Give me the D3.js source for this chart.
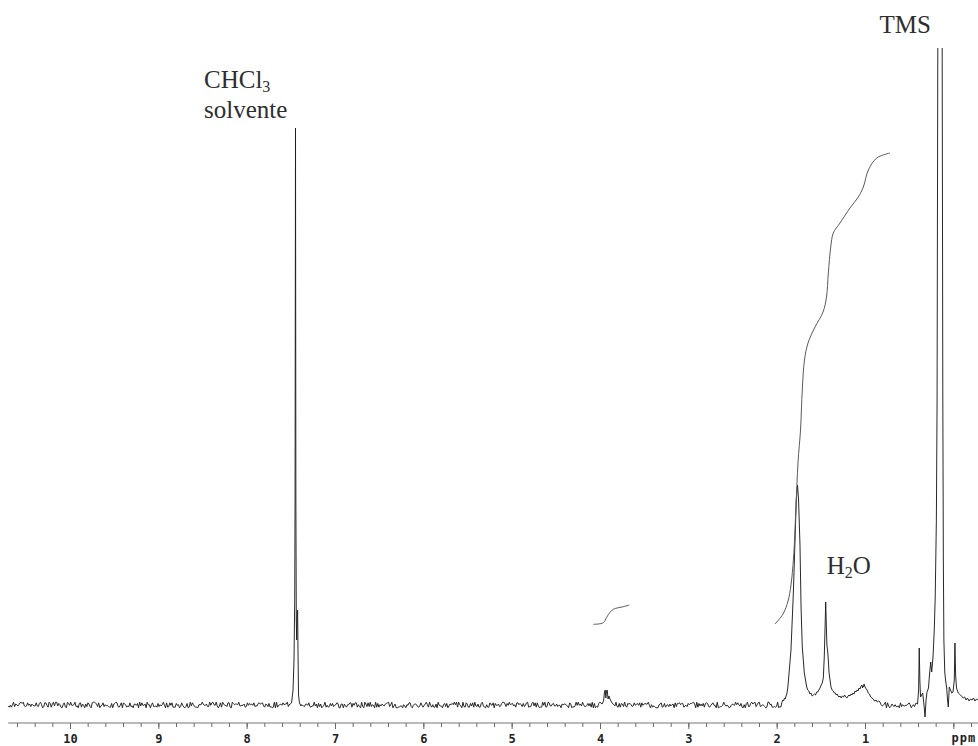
<!DOCTYPE html>
<html>
<head>
<meta charset="utf-8">
<title>RMN 1H</title>
<script src="https://d3js.org/d3.v7.min.js"></script>
<style>
  html, body { margin: 0; padding: 0; background: #fff; }
  svg { display: block; }
  .axis line { stroke: #6a6a6a; }
  .axis text { font-family: "DejaVu Sans Mono", monospace; font-weight: bold; font-size: 12px; fill: #222; }
  .label { font-family: "Liberation Serif", "Times New Roman", serif; font-size: 25px; fill: #2e2e2e; }
</style>
</head>
<body>
<svg id="spectrum" width="978" height="746"></svg>
<script>
// baseline jitter, one digit per step, read as offsets around zero
var noiseStart = 10.70;
var noiseStep = 0.0122;
var noiseScale = 0.62;
var baselineNoise =
	"31415926535897932384626433832795028841971693993751" +
	"05820974944592307816406286208998628034825342117067" +
	"98214808651328230664709384460955058223172535940812" +
	"84811174502841027019385211055596446229489549303819" +
	"64428810975665933446128475648233786783165271201909" +
	"14564856692346034861045432664821339360726024914127" +
	"37245870066063155881748815209209628292540917153643" +
	"67892590360011330530548820466521384146951941511609" +
	"43305727036575959195309218611738193261179310511854" +
	"80744623799627495673518857527248912279381830119491" +
	"29833673362440656643086021394946395224737190702179" +
	"86094370277053921717629317675238467481846766940513" +
	"20005681271452635608277857713427577896091736371787" +
	"21468440901224953430146549585371050792279689258923" +
	"54201995611212902196086403441815981362977477130996" +
	"05187072113499999983729780499510597317328160963185" +
	"95024459455346908302642522308253344685035261931188" +
	"17101000313783875288658753320838142061717766914730";

// [ppm, intensity]
var chcl3Peak = [
	[7.521, 0], [7.492, 2], [7.475, 15], [7.464, 45], [7.456, 105], [7.452, 208],
	[7.447, 577], [7.443, 208], [7.438, 85], [7.434, 65], [7.428, 93], [7.423, 95],
	[7.419, 55], [7.413, 10], [7.402, 2], [7.385, -1]
];

var multiplet39 = [
	[3.977, 1], [3.960, 4], [3.949, 13], [3.941, 15], [3.934, 7], [3.926, 14],
	[3.918, 15], [3.909, 6], [3.898, 9], [3.887, 6], [3.870, 3], [3.853, 1]
];

var alkylPeaks = [
	[1.940, 3], [1.930, 5], [1.921, 4], [1.912, 7], [1.903, 6], [1.894, 9], [1.885, 11],
	[1.876, 16], [1.868, 23], [1.838, 55], [1.812, 110], [1.792, 165], [1.778, 205],
	[1.764, 220], [1.752, 205], [1.736, 160], [1.724, 98], [1.710, 58], [1.687, 32],
	[1.660, 18], [1.648, 15], [1.636, 14], [1.623, 11], [1.611, 12], [1.598, 9],
	[1.585, 10], [1.572, 11], [1.560, 10], [1.547, 13], [1.535, 13], [1.522, 15],
	[1.509, 17], [1.496, 20], [1.484, 22], [1.472, 27], [1.461, 48], [1.450, 85],
	[1.445, 103], [1.438, 80], [1.431, 60], [1.422, 53], [1.415, 45], [1.407, 32],
	[1.385, 18], [1.372, 15], [1.360, 14], [1.347, 12], [1.335, 12], [1.326, 10],
	[1.317, 11], [1.305, 9], [1.294, 8], [1.283, 9], [1.270, 7], [1.257, 9],
	[1.243, 8], [1.231, 10], [1.218, 8], [1.204, 7], [1.192, 9], [1.181, 10],
	[1.170, 9], [1.158, 11], [1.147, 10], [1.136, 12], [1.124, 11], [1.113, 14],
	[1.102, 13], [1.090, 15], [1.079, 14], [1.068, 17], [1.056, 16], [1.045, 19],
	[1.034, 20], [1.028, 17], [1.022, 19], [1.016, 18], [1.011, 21], [1.003, 19],
	[0.994, 17], [0.985, 16], [0.977, 15], [0.963, 12], [0.949, 11], [0.935, 8],
	[0.921, 7], [0.907, 6], [0.892, 4], [0.875, 5], [0.860, 3], [0.845, 4], [0.830, 3]
];

var tmsPeaks = [
	[0.422, 2], [0.405, 1], [0.393, 15], [0.386, 57], [0.379, 25], [0.371, 8],
	[0.360, 10], [0.347, 12], [0.332, 0], [0.320, -12], [0.309, 5], [0.298, 13],
	[0.281, 17], [0.270, 30], [0.256, 43], [0.245, 33], [0.230, 48], [0.216, 75],
	[0.205, 108], [0.192, 185], [0.184, 305], [0.176, 650], [0.151, 50000],
	[0.126, 650], [0.119, 305], [0.113, 145], [0.107, 65], [0.097, 33], [0.088, 25],
	[0.075, 17], [0.066, 5], [0.057, -2], [0.046, 18], [0.032, 15], [0.018, 12],
	[0.004, 13], [-0.011, 25], [-0.018, 62], [-0.026, 30], [-0.036, 17], [-0.056, 12],
	[-0.081, 10], [-0.113, 7], [-0.128, 8], [-0.144, 5], [-0.160, 7], [-0.178, 4],
	[-0.195, 6], [-0.212, 5], [-0.228, 7], [-0.245, 4], [-0.262, 6], [-0.279, 5]
];

// integral traces [ppm, level]
var integral39 = [
	[4.076, 80.7], [3.962, 82.3], [3.924, 87.7], [3.887, 92.7], [3.849, 95.7],
	[3.793, 97.3], [3.736, 98.3], [3.668, 100]
];

var integralAlkyl = [
	[2.019, 81], [1.928, 91], [1.871, 104], [1.838, 120], [1.809, 147], [1.783, 195],
	[1.758, 243], [1.730, 275], [1.710, 315], [1.685, 345], [1.645, 362], [1.566, 378],
	[1.475, 393], [1.436, 408], [1.415, 432], [1.388, 458], [1.359, 472], [1.283, 482],
	[1.170, 497], [1.076, 508], [1.019, 518], [0.962, 535], [0.867, 547], [0.717, 552]
];

var majorTicks = [10, 9, 8, 7, 6, 5, 4, 3, 2, 1, 0];
var tickLabels = ["10", "9", "8", "7", "6", "5", "4", "3", "2", "1", ""];
var minorTicks = d3.range(-1, 54).map(function (i) { return +(i * 0.2).toFixed(1); });

var labels = [
	{ text: "CHCl", sub: "3", after: "", ppm: 8.483, level: 617 },
	{ text: "solvente", sub: "", after: "", ppm: 8.483, level: 587 },
	{ text: "H", sub: "2", after: "O", ppm: 1.434, level: 131 },
	{ text: "TMS", sub: "", after: "", ppm: 0.836, level: 672 }
];

var svg = d3.select("#spectrum");

var x = d3.scaleLinear().domain([10, 1]).range([70, 865]);
var y = d3.scaleLinear().domain([0, 577]).range([705, 128]);

svg.append("rect").attr("width", 978).attr("height", 746).attr("fill", "#fff");

svg.append("defs").append("clipPath").attr("id", "plotClip")
	.append("rect")
	.attr("x", 0).attr("y", 48)
	.attr("width", 978).attr("height", 690);

// build the trace: baseline samples outside the peak regions + peak points
var peakRegions = [chcl3Peak, multiplet39, alkylPeaks, tmsPeaks];
var trace = [];
baselineNoise.split("").forEach(function (d, i) {
	var ppm = noiseStart - i * noiseStep;
	var inside = peakRegions.some(function (r) {
		return ppm <= r[0][0] && ppm >= r[r.length - 1][0];
	});
	if (!inside && ppm >= -0.28) trace.push([ppm, (+d - 4.5) * noiseScale]);
});
peakRegions.forEach(function (r) { trace = trace.concat(r); });
trace.sort(function (a, b) { return b[0] - a[0]; });

var line = d3.line()
	.x(function (d) { return x(d[0]); })
	.y(function (d) { return y(d[1]); });

var plot = svg.append("g").attr("clip-path", "url(#plotClip)");

plot.append("path")
	.datum(trace)
	.attr("d", line)
	.attr("fill", "none")
	.attr("stroke", "#1e1e1e")
	.attr("stroke-width", 0.95)
	.attr("stroke-linejoin", "round");

var integralLine = d3.line()
	.x(function (d) { return x(d[0]); })
	.y(function (d) { return y(d[1]); })
	.curve(d3.curveCatmullRom);

[integral39, integralAlkyl].forEach(function (data) {
	plot.append("path")
		.datum(data)
		.attr("d", integralLine)
		.attr("fill", "none")
		.attr("stroke", "#5a5a5a")
		.attr("stroke-width", 1);
});

// axis
var axisY = 723;
svg.append("line")
	.attr("x1", x(10.70)).attr("x2", x(-0.28))
	.attr("y1", axisY).attr("y2", axisY)
	.attr("stroke", "#777").attr("stroke-width", 1.2);

svg.append("g")
	.attr("class", "axis")
	.attr("transform", "translate(0," + axisY + ")")
	.call(d3.axisBottom(x).tickValues(minorTicks).tickSize(4).tickFormat(""))
	.call(function (g) { g.select(".domain").remove(); });

svg.append("g")
	.attr("class", "axis")
	.attr("transform", "translate(0," + axisY + ")")
	.call(d3.axisBottom(x).tickValues(majorTicks).tickSize(6).tickPadding(5)
		.tickFormat(function (d, i) { return tickLabels[i]; }))
	.call(function (g) { g.select(".domain").remove(); });

svg.append("text")
	.attr("x", x(-0.12))
	.attr("y", 742)
	.attr("text-anchor", "middle")
	.style("font-family", "'DejaVu Sans Mono', monospace")
	.style("font-size", "12px")
	.style("font-weight", "bold")
	.style("letter-spacing", "1px")
	.attr("fill", "#222")
	.text("ppm");

// annotations
labels.forEach(function (l) {
	var t = svg.append("text")
		.attr("class", "label")
		.attr("x", x(l.ppm))
		.attr("y", y(l.level));
	t.append("tspan").text(l.text);
	if (l.sub) {
		t.append("tspan").attr("dy", 4).style("font-size", "16px").text(l.sub);
	}
	if (l.after) {
		t.append("tspan").attr("dy", -4).text(l.after);
	}
});
</script>
</body>
</html>
